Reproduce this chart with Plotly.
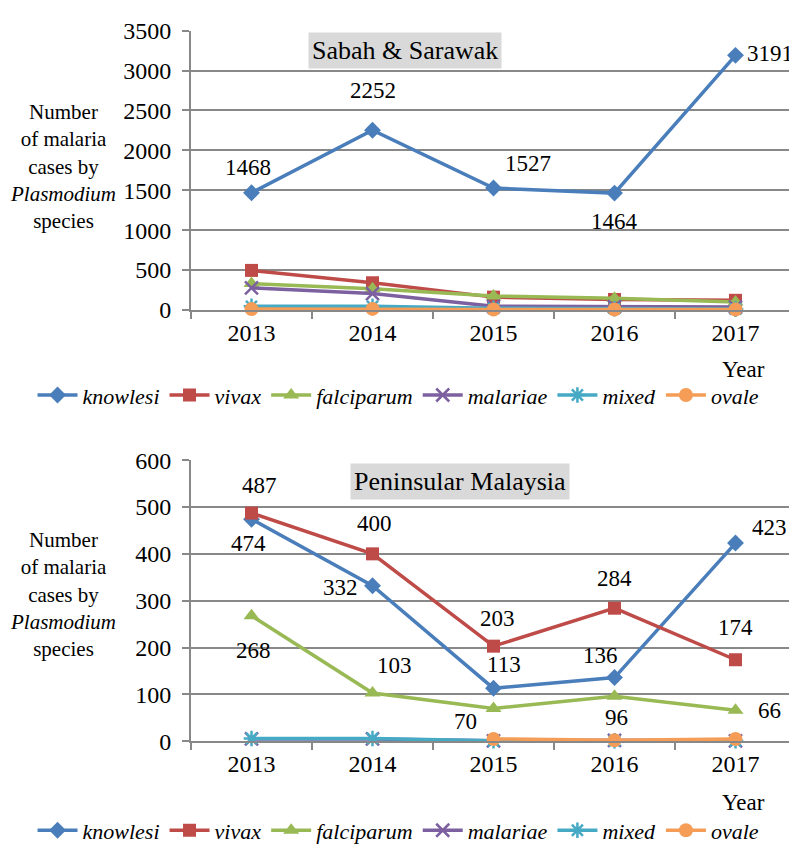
import plotly.graph_objects as go

years = ["2013", "2014", "2015", "2016", "2017"]
species = ["knowlesi", "vivax", "falciparum", "malariae", "mixed", "ovale"]

# Sabah & Sarawak
sab_knowlesi = [1468, 2252, 1527, 1464, 3191]
sab_vivax = [495, 340, 160, 130, 120]
sab_falciparum = [330, 265, 175, 145, 100]
sab_malariae = [275, 205, 45, 40, 35]
sab_mixed = [45, 45, 20, 15, 10]
sab_ovale = [10, 12, 5, 5, 5]

# Peninsular Malaysia
pen_knowlesi = [474, 332, 113, 136, 423]
pen_vivax = [487, 400, 203, 284, 174]
pen_falciparum = [268, 103, 70, 96, 66]
pen_malariae = [5, 5, 1, 2, 1]
pen_mixed = [6, 6, 1, 1, 1]
pen_ovale = [None, None, 5, 2, 5]

colors = ["#4A7EBB", "#BE4B48", "#98B954", "#7D60A0", "#46AAC5", "#F59D56"]
symbols = ["diamond", "square", "triangle-up", "x-thin-open", "asterisk-open", "circle"]
sizes = [13, 13, 14, 13, 13, 14]

FONT = "Liberation Serif"

sab = [sab_knowlesi, sab_vivax, sab_falciparum, sab_malariae, sab_mixed, sab_ovale]
pen = [pen_knowlesi, pen_vivax, pen_falciparum, pen_malariae, pen_mixed, pen_ovale]

fig = go.Figure()
for i, name in enumerate(species):
    lw = 2.5 if symbols[i].endswith("open") else 0
    fig.add_trace(go.Scatter(
        x=years, y=sab[i], name=name, mode="lines+markers",
        line=dict(color=colors[i], width=3.5),
        marker=dict(symbol=symbols[i], size=sizes[i], color=colors[i],
                    line=dict(width=lw, color=colors[i])),
        xaxis="x", yaxis="y", legend="legend", cliponaxis=False))
for i, name in enumerate(species):
    lw = 2.5 if symbols[i].endswith("open") else 0
    fig.add_trace(go.Scatter(
        x=years, y=pen[i], name=name, mode="lines+markers",
        line=dict(color=colors[i], width=3.5),
        marker=dict(symbol=symbols[i], size=sizes[i], color=colors[i],
                    line=dict(width=lw, color=colors[i])),
        xaxis="x2", yaxis="y2", legend="legend2", cliponaxis=False))

# data labels (series, year index, shift x, shift y)
sab_labels = [(sab_knowlesi, 0, -4, 25), (sab_knowlesi, 1, 0, 40),
              (sab_knowlesi, 2, 34, 25), (sab_knowlesi, 3, 0, -28),
              (sab_knowlesi, 4, 34, 2)]
pen_labels = [(pen_vivax, 0, 8, 28), (pen_knowlesi, 0, -3, -24),
              (pen_falciparum, 0, 2, -35), (pen_vivax, 1, 2, 30),
              (pen_knowlesi, 1, -32, -2), (pen_falciparum, 1, 22, 28),
              (pen_vivax, 2, 4, 28), (pen_knowlesi, 2, 10, 24),
              (pen_falciparum, 2, -28, -13), (pen_vivax, 3, 0, 30),
              (pen_knowlesi, 3, -14, 22), (pen_falciparum, 3, 2, -21),
              (pen_knowlesi, 4, 34, 16), (pen_vivax, 4, 0, 32),
              (pen_falciparum, 4, 34, 0)]

annotations = []
for arr, j, dx, dy in sab_labels:
    annotations.append(dict(x=j, y=arr[j], xref="x", yref="y",
                            text=str(arr[j]), showarrow=False, xshift=dx, yshift=dy,
                            font=dict(family=FONT, size=23, color="black")))
for arr, j, dx, dy in pen_labels:
    annotations.append(dict(x=j, y=arr[j], xref="x2", yref="y2",
                            text=str(arr[j]), showarrow=False, xshift=dx, yshift=dy,
                            font=dict(family=FONT, size=23, color="black")))

ytitle = "Number<br>of malaria<br>cases by<br><i>Plasmodium</i><br>species"
for yc in [1 - 150 / 850, 1 - 592 / 850]:
    annotations.append(dict(x=55 / 797, y=yc, xref="paper", yref="paper",
                            xanchor="center", yanchor="middle",
                            text=ytitle, showarrow=False, align="center",
                            font=dict(family=FONT, size=21, color="black")))
for yc in [1 - 360 / 850, 1 - 806 / 850]:
    annotations.append(dict(x=735 / 797, y=yc, xref="paper", yref="paper",
                            xanchor="center", yanchor="middle",
                            text="Year", showarrow=False,
                            font=dict(family=FONT, size=23, color="black")))

annotations.append(dict(x=397 / 797, y=1 - 30 / 850, xref="paper", yref="paper",
                        xanchor="center", yanchor="middle",
                        text="Sabah & Sarawak", showarrow=False, bgcolor="#D9D9D9",
                        borderpad=3, font=dict(family=FONT, size=26, color="black")))
annotations.append(dict(x=452 / 797, y=1 - 475 / 850, xref="paper", yref="paper",
                        xanchor="center", yanchor="middle",
                        text="Peninsular Malaysia", showarrow=False, bgcolor="#D9D9D9",
                        borderpad=3, font=dict(family=FONT, size=26, color="black")))

xdom = [183 / 797, 788 / 797]
xstyle = dict(type="category", tickson="boundaries", ticks="outside", ticklen=7,
              tickcolor="#888888", tickwidth=2, showline=True, linecolor="#888888",
              linewidth=2, showgrid=False, domain=xdom, range=[-0.5, 4.5],
              tickangle=0, tickfont=dict(family=FONT, size=24, color="black"))
ystyle = dict(ticks="outside", ticklen=7, tickcolor="#888888", tickwidth=2,
              showline=True, linecolor="#888888", linewidth=2, gridcolor="#888888",
              gridwidth=2, zeroline=False, ticklabelstandoff=6,
              tickfont=dict(family=FONT, size=24, color="black"))

legstyle = dict(orientation="h", xanchor="center", x=0.49, yanchor="middle",
                font=dict(family=FONT, size=22, color="black", style="italic"),
                itemwidth=40, bgcolor="rgba(0,0,0,0)", tracegroupgap=0)

fig.update_layout(
    width=797, height=850,
    margin=dict(l=0, r=0, t=0, b=0),
    plot_bgcolor="white", paper_bgcolor="white",
    font=dict(family=FONT),
    xaxis=dict(xstyle, anchor="y"),
    yaxis=dict(ystyle, domain=[1 - 298 / 850, 1 - 10 / 850], range=[0, 3500], dtick=500, anchor="x"),
    xaxis2=dict(xstyle, anchor="y2"),
    yaxis2=dict(ystyle, domain=[1 - 743 / 850, 1 - 453 / 850], range=[0, 600], dtick=100, anchor="x2"),
    legend=dict(legstyle, y=1 - 386 / 850),
    legend2=dict(legstyle, y=1 - 835 / 850),
    annotations=annotations,
)

fig.write_html("out.html")
